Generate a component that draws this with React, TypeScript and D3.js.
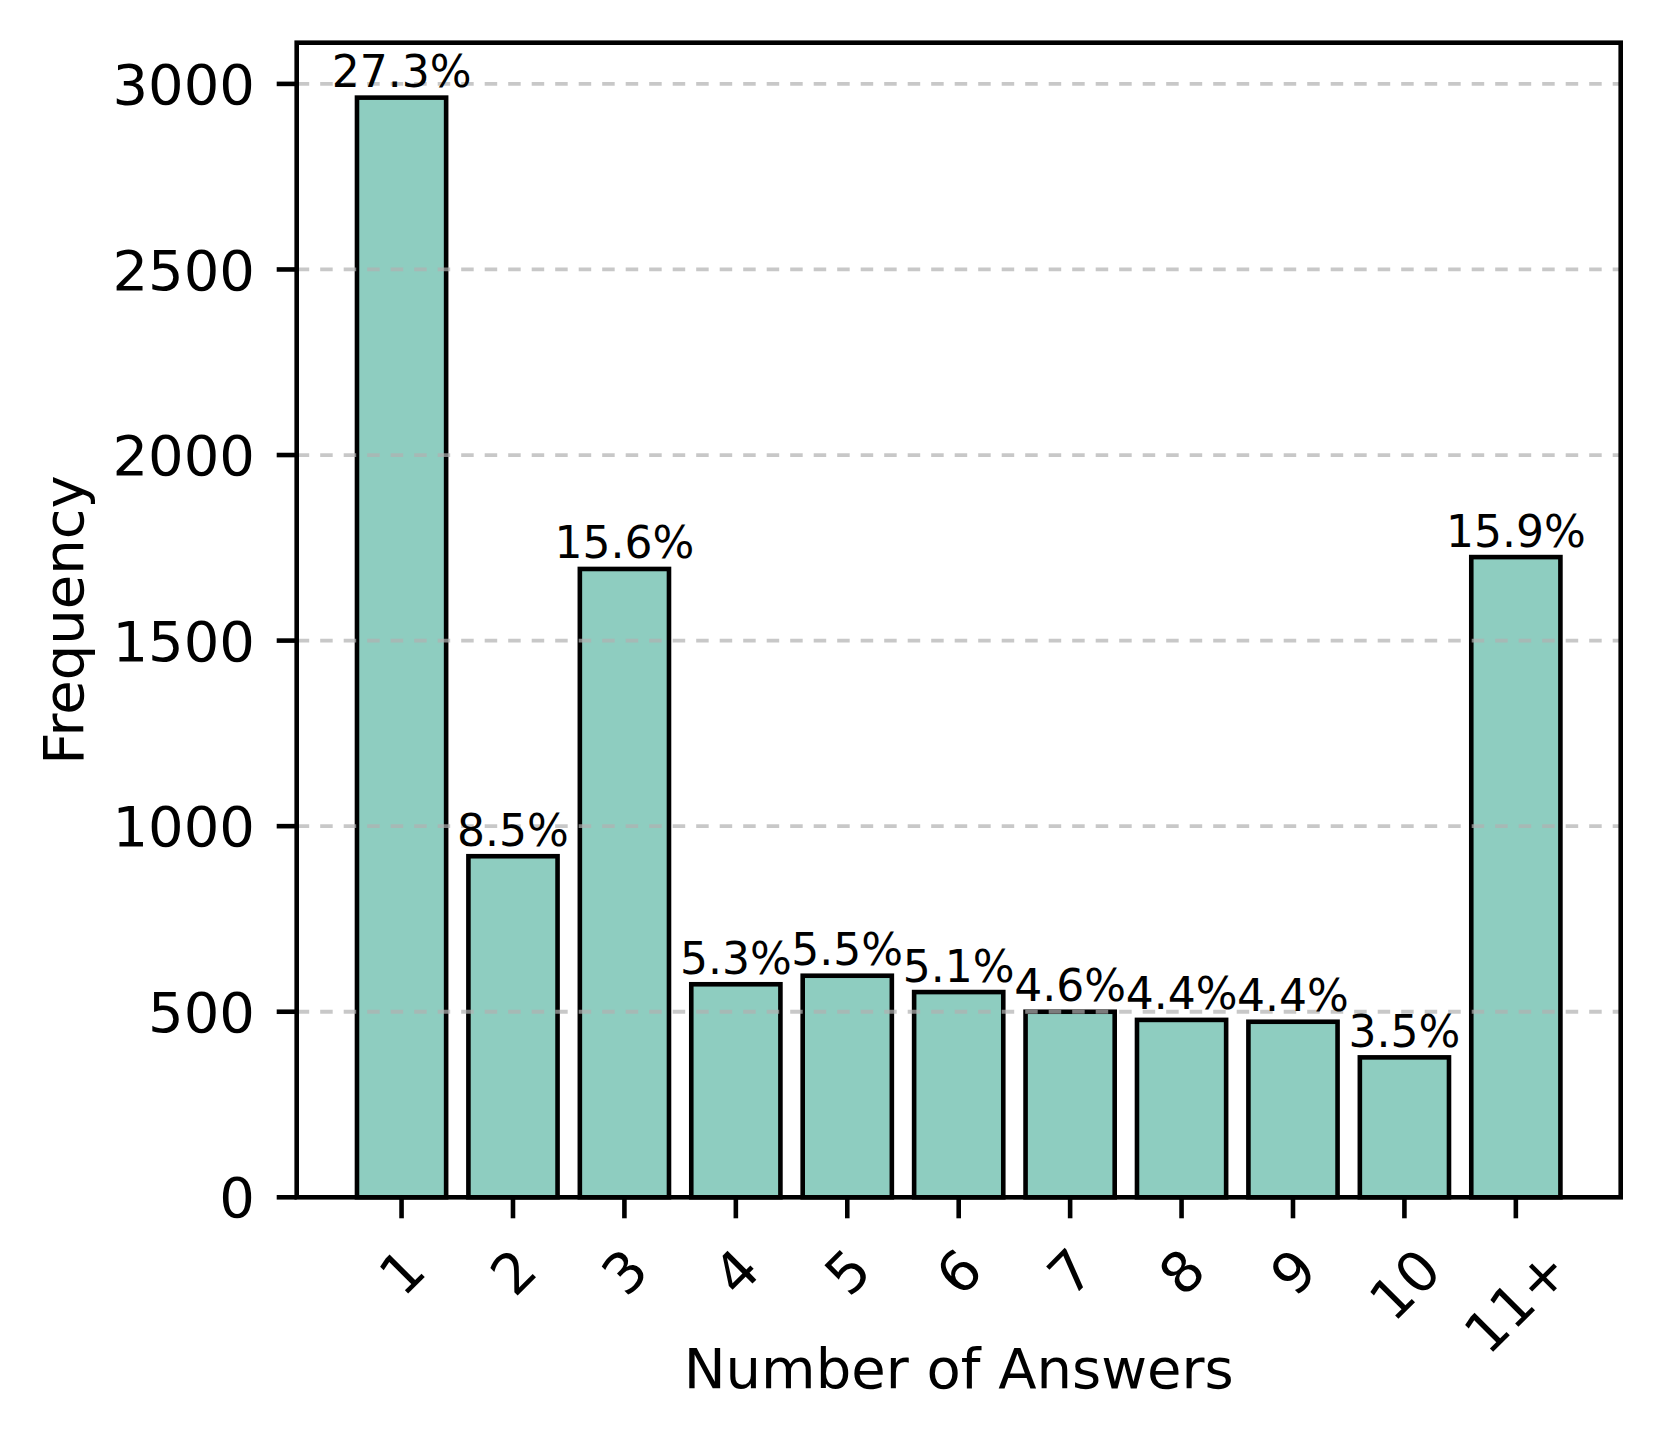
import React from "react";
import * as d3 from "d3";

const categories = ["1", "2", "3", "4", "5", "6", "7", "8", "9", "10", "11+"];
const frequencies = [2963, 919, 1693, 574, 597, 553, 500, 478, 473, 377, 1725];
const percentLabels = ["27.3%", "8.5%", "15.6%", "5.3%", "5.5%", "5.1%", "4.6%", "4.4%", "4.4%", "3.5%", "15.9%"];
const yTicks = [0, 500, 1000, 1500, 2000, 2500, 3000];
const xLabel = "Number of Answers";
const yLabel = "Frequency";

const W = 1661;
const H = 1443;
const left = 296.7;
const right = 1620.7;
const top = 42.7;
const bottom = 1197.3;
const FONT = "'DejaVu Sans', sans-serif";
const tickFs = 56;
const pctFs = 44;
const lw = 4.6;

function charW(c: string): number {
  if (c === "+") return 0.838;
  if (c === ".") return 0.318;
  if (c === "%") return 0.95;
  return 0.636;
}

export default function App() {
  const x = d3
    .scaleBand<string>()
    .domain(categories)
    .range([left, right])
    .paddingInner(0.2)
    .paddingOuter(0.541);
  const y = d3.scaleLinear().domain([0, 3111]).range([bottom, top]);
  const bw = x.bandwidth();

  return (
    <svg
      width={W}
      height={H}
      style={{ position: "absolute", left: 0, top: 0, display: "block", background: "#fff" }}
      fontFamily={FONT}
    >
      <rect x={0} y={0} width={W} height={H} fill="#fff" />
      {categories.map((c, i) => (
        <rect
          key={c}
          x={x(c)!}
          y={y(frequencies[i])}
          width={bw}
          height={y(0) - y(frequencies[i])}
          fill="#8ecdc0"
          stroke="#000"
          strokeWidth={lw}
        />
      ))}
      {yTicks.slice(1).map((t) => (
        <line
          key={t}
          x1={left}
          x2={right}
          y1={y(t)}
          y2={y(t)}
          stroke="#b0b0b0"
          strokeOpacity={0.7}
          strokeWidth={3.8}
          strokeDasharray="12.5 11"
        />
      ))}
      <rect
        x={left}
        y={top}
        width={right - left}
        height={bottom - top}
        fill="none"
        stroke="#000"
        strokeWidth={lw}
      />
      {yTicks.map((t) => (
        <g key={t}>
          <line x1={left - 20} x2={left} y1={y(t)} y2={y(t)} stroke="#000" strokeWidth={lw} />
          <text x={255} y={y(t)} dy="0.36em" textAnchor="end" fontSize={tickFs} fill="#000">
            {t}
          </text>
        </g>
      ))}
      {categories.map((c) => {
        const cx = x(c)! + bw / 2;
        const w = c.split("").reduce((s, ch) => s + charW(ch), 0) * tickFs;
        const h = 1.164 * tickFs;
        const bboxH = (w + h) * Math.SQRT1_2;
        const cy = 1236 + bboxH / 2;
        return (
          <g key={c}>
            <line x1={cx} x2={cx} y1={bottom} y2={bottom + 21} stroke="#000" strokeWidth={lw} />
            <text
              transform={`translate(${cx},${cy}) rotate(-45)`}
              textAnchor="middle"
              dy="0.36em"
              fontSize={tickFs}
              fill="#000"
            >
              {c}
            </text>
          </g>
        );
      })}
      {categories.map((c, i) => (
        <text
          key={c}
          x={x(c)! + bw / 2}
          y={y(frequencies[i]) - 10.5}
          textAnchor="middle"
          fontSize={pctFs}
          fill="#000"
        >
          {percentLabels[i]}
        </text>
      ))}
      <text x={(left + right) / 2} y={1388} textAnchor="middle" fontSize={tickFs} fill="#000">
        {xLabel}
      </text>
      <text
        transform={`translate(82.5,${(top + bottom) / 2}) rotate(-90)`}
        textAnchor="middle"
        fontSize={tickFs}
        fill="#000"
      >
        {yLabel}
      </text>
    </svg>
  );
}
